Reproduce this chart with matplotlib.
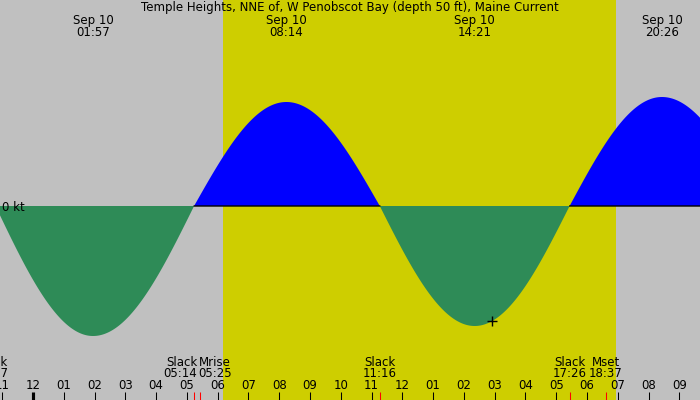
import numpy as np
import matplotlib
matplotlib.use("Agg")
import matplotlib.pyplot as plt
import matplotlib.transforms as mtransforms

# ---------------- data ----------------
title = "Temple Heights, NNE of, W Penobscot Bay (depth 50 ft), Maine Current"
date_label = "Sep 10"

# current events (hours relative to midnight Sep 10), speed in kt (0 = slack)
event_times = ["-01:13", "01:57", "05:14", "08:14", "11:16", "14:21", "17:26", "20:26", "23:32"]
event_speeds = [0.0, -1.30, 0.0, 1.04, 0.0, -1.20, 0.0, 1.09, 0.0]

# max-current labels shown along the top
max_times = ["01:57", "08:14", "14:21", "20:26"]

# bottom event labels
bottom_names = ["Slack", "Slack", "Mrise", "Slack", "Slack", "Mset"]
bottom_times = ["22:47", "05:14", "05:25", "11:16", "17:26", "18:37"]
bottom_day = [-1, 0, 0, 0, 0, 0]  # day offset (prev day = -1)
bottom_align = ["center", "right", "left", "center", "center", "center"]
red_tick_times = ["05:14", "05:25", "11:16", "17:26", "18:37"]

sunrise = "06:11"
sunset = "18:56"

now_time = "14:55"
now_speed = -1.15

hour_ticks = list(range(-1, 22))

# ---------------- helpers ----------------
def to_h(s):
    neg = s.startswith("-")
    s = s.lstrip("-")
    h, m = s.split(":")
    v = int(h) + int(m) / 60.0
    return -v if neg else v

et = np.array([to_h(s) for s in event_times])
ev = np.array(event_speeds)

PX_PER_H = 30.78
X0 = 33.0
W, H = 700, 400
xmin = -X0 / PX_PER_H
xmax = (W - X0) / PX_PER_H
PX_PER_KT = 100.0
ZERO_Y = 206.0
ymax = ZERO_Y / PX_PER_KT
ymin = -(H - ZERO_Y) / PX_PER_KT

# curve between events (quarter-sine shape between slack and max)
t = np.linspace(xmin, xmax, 3000)
v = np.zeros_like(t)
for i in range(len(et) - 1):
    a, b = et[i], et[i + 1]
    m = (t >= a) & (t <= b)
    frac = (t[m] - a) / (b - a)
    va, vb = ev[i], ev[i + 1]
    if va == 0:
        v[m] = vb * np.sin(np.pi / 2 * frac)
    else:
        v[m] = va * np.cos(np.pi / 2 * frac)

GRAY = "#c0c0c0"
YELLOW = "#cece00"
BLUE = "#0000ff"
GREEN = "#2e8b57"

fig = plt.figure(figsize=(7, 4), dpi=100)
fig.patch.set_facecolor(GRAY)
ax = fig.add_axes([0, 0, 1, 1])
ax.set_facecolor(GRAY)
ax.set_xlim(xmin, xmax)
ax.set_ylim(ymin, ymax)
ax.axis("off")

ax.axvspan(to_h(sunrise), to_h(sunset), color=YELLOW, lw=0, zorder=0)

ax.fill_between(t, 0, v, where=v > 0, color=BLUE, lw=0, interpolate=True, zorder=2)
ax.fill_between(t, 0, v, where=v < 0, color=GREEN, lw=0, interpolate=True, zorder=2)
ax.plot(t, np.where(v > 0, 0.0, np.nan), color="black", lw=1.0, zorder=3)

trans = mtransforms.blended_transform_factory(ax.transData, ax.transAxes)

def yf(py):
    return 1 - py / H

fs = 8.5
ax.text(0.5, yf(11), title, transform=ax.transAxes, ha="center", va="baseline",
        fontsize=fs, color="black")

for s in max_times:
    x = to_h(s)
    ax.text(x, yf(24), date_label, transform=trans, ha="center", va="baseline", fontsize=fs)
    ax.text(x, yf(36), s, transform=trans, ha="center", va="baseline", fontsize=fs)

ax.text(2 / PX_PER_H + xmin, -0.047, "0 kt", ha="left", va="baseline", fontsize=fs)

for name, s, d, al in zip(bottom_names, bottom_times, bottom_day, bottom_align):
    x = to_h(s) + 24 * d
    dx = 0.0
    if al == "right":
        dx = 3 / PX_PER_H
    elif al == "left":
        dx = -1 / PX_PER_H
    if d != 0:
        dx = -4 / PX_PER_H
    ax.text(x + dx, yf(366), name, transform=trans, ha=al, va="baseline", fontsize=fs)
    ax.text(x + dx, yf(377), s, transform=trans, ha=al, va="baseline", fontsize=fs)

for h in hour_ticks:
    hh = h % 12
    lab = "%02d" % (12 if hh == 0 else hh)
    ax.text(h, yf(389), lab, transform=trans, ha="center", va="baseline", fontsize=fs)
    lw = 3 if h == 0 else 1
    ax.plot([h, h], [yf(392), 0], transform=trans, color="black", lw=lw * 0.75,
            solid_capstyle="butt", zorder=4)

for s in red_tick_times:
    x = to_h(s)
    ax.plot([x, x], [yf(392), 0], transform=trans, color="red", lw=0.75,
            solid_capstyle="butt", zorder=4)

ax.plot([to_h(now_time)], [now_speed], marker="+", color="black", ms=7, mew=1, zorder=5)

fig.savefig("out.png", dpi=100, facecolor=GRAY)
